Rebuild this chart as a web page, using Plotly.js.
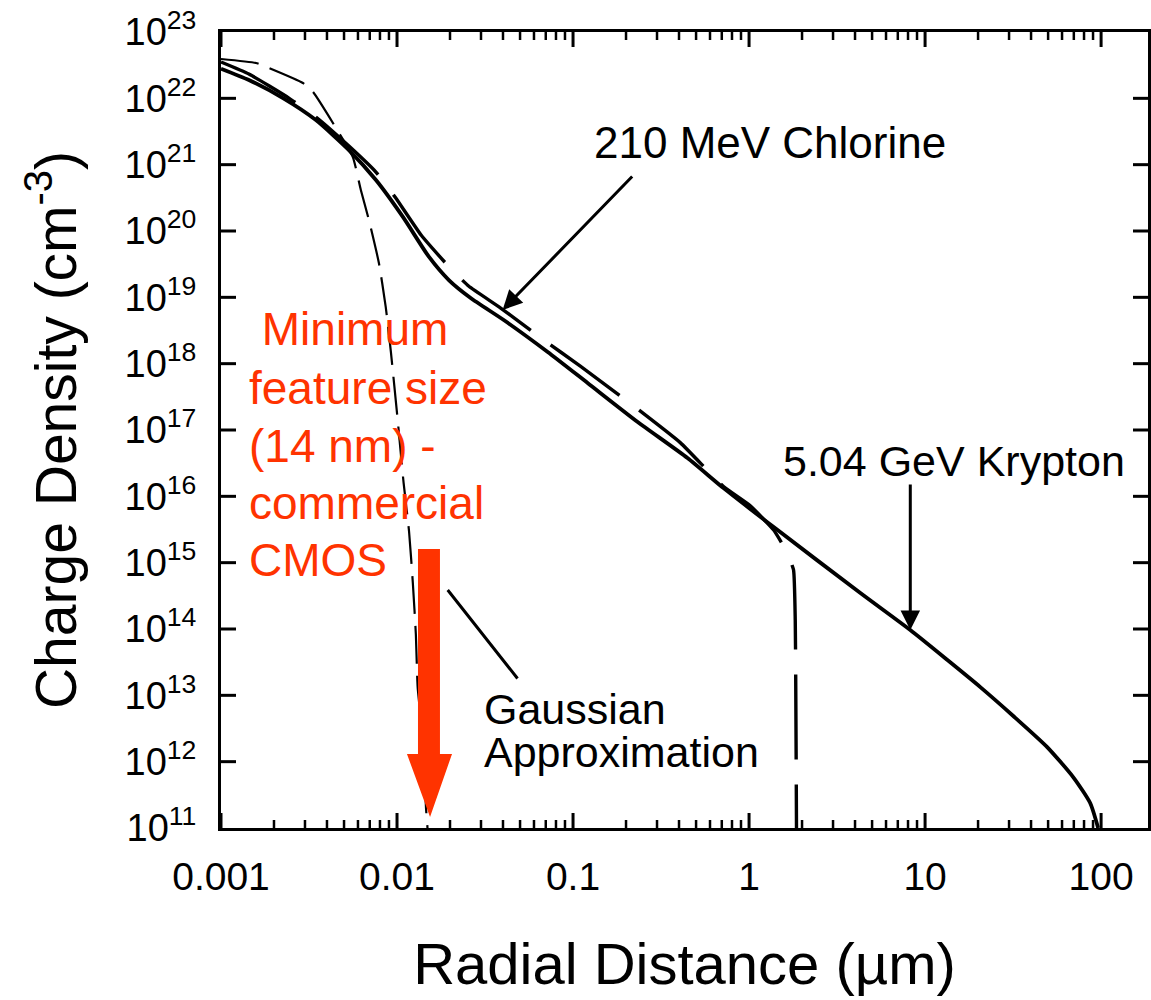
<!DOCTYPE html>
<html>
<head>
<meta charset="utf-8">
<script src="https://cdn.plot.ly/plotly-3.0.1.min.js"></script>
<style>html,body{margin:0;padding:0;background:#fff;}#chart{width:1151px;height:1000px;}</style>
</head>
<body>
<div id="chart"></div>
<script>
// Radial distance (µm) and charge density (cm^-3)
const kryptonX = [0.001, 0.00144, 0.00225, 0.00346, 0.00533, 0.00759, 0.0108, 0.0152, 0.0197, 0.0262, 0.0404, 0.0718, 0.121, 0.233, 0.447, 0.716, 1.38, 4.29, 8.24, 13.4, 20.6, 31.7, 49.4, 69.4, 86.7, 96.2];
const kryptonY = [2.8e22, 1.89e22, 1.01e22, 4.71e21, 1.66e21, 5.87e20, 1.63e20, 4.06e19, 1.82e19, 9.77e18, 4.55e18, 1.50e18, 5.11e17, 1.32e17, 3.78e16, 1.33e16, 3.44e15, 3.48e14, 9.64e13, 3.40e13, 1.33e13, 4.88e12, 1.66e12, 5.86e11, 2.38e11, 1.0e11];

const chlorineX = [0.001, 0.00144, 0.00243, 0.00346, 0.00533, 0.00759, 0.00984, 0.0137, 0.0197, 0.0255, 0.0388, 0.0655, 0.110, 0.221, 0.408, 0.716, 1.02, 1.38, 1.65, 1.79, 1.83, 1.86];
const chlorineY = [3.53e22, 2.33e22, 1.01e22, 5.23e21, 1.91e21, 7.74e20, 3.14e20, 8.7e19, 2.9e19, 1.48e19, 6.9e18, 2.45e18, 9.2e17, 2.3e17, 6.4e16, 1.4e16, 7.14e15, 3.10e15, 1.40e15, 7.74e14, 1.36e14, 1.0e11];

const gaussX = [0.001, 0.00158, 0.00187, 0.00292, 0.00333, 0.00450, 0.00561, 0.00623, 0.00692, 0.00789, 0.00863, 0.00923, 0.0101, 0.0109, 0.0117, 0.0123, 0.0128, 0.0131, 0.0140, 0.0146, 0.0149];
const gaussY = [3.92e22, 3.41e22, 2.87e22, 1.70e22, 1.25e22, 3.57e21, 1.30e21, 4.15e20, 1.47e20, 3.29e19, 7.14e18, 1.50e18, 1.37e17, 1.59e16, 3.00e15, 4.93e14, 8.11e13, 1.33e13, 2.27e12, 2.07e11, 1.0e11];

const xTickVals = [0.001, 0.01, 0.1, 1, 10, 100];
const xTickText = ['0.001', '0.01', '0.1', '1', '10', '100'];
const yExponents = [11, 12, 13, 14, 15, 16, 17, 18, 19, 20, 21, 22, 23];

const FONT = 'Liberation Sans, Arial, Helvetica, sans-serif';
const RED = '#ff3300';
const X_RANGE = [-3, 2.2665];
const Y_RANGE = [11, 23];

const yTickVals = yExponents.map(e => Math.pow(10, e));
const yTickText = yExponents.map(e => '10<sup>' + e + '</sup>');
const xMinor = [];
for (let d = -3; d <= 2; d++) for (let k = 2; k <= 9; k++) {
  const v = k * Math.pow(10, d);
  if (Math.log10(v) < X_RANGE[1]) xMinor.push(v);
}

const traces = [
  {x: kryptonX, y: kryptonY, type: 'scatter', mode: 'lines', name: '5.04 GeV Krypton',
   line: {color: '#000', width: 3.8, shape: 'spline', smoothing: 0.6}},
  {x: chlorineX, y: chlorineY, type: 'scatter', mode: 'lines', name: '210 MeV Chlorine',
   line: {color: '#000', width: 3.4, dash: '85px,25px', shape: 'spline', smoothing: 0.4}},
  {x: gaussX, y: gaussY, type: 'scatter', mode: 'lines', name: 'Gaussian Approximation',
   line: {color: '#000', width: 2.2, dash: '38px,12px', shape: 'spline', smoothing: 0.5}}
];

function txt(text, x, y, color, size, anchor) {
  return {text: text, xref: 'paper', yref: 'paper', x: x, y: y, xanchor: anchor || 'left', yanchor: 'middle',
          showarrow: false, font: {family: FONT, size: size, color: color}};
}

const annotations = [
  txt('210 MeV Chlorine', 0.4005, 0.8606, '#000', 44),
  txt('5.04 GeV Krypton', 0.6041, 0.4610, '#000', 43),
  txt('Gaussian', 0.2816, 0.1495, '#000', 43),
  txt('Approximation', 0.2816, 0.0955, '#000', 43),
  txt(' Minimum', 0.0280, 0.6269, RED, 46),
  txt('feature size', 0.0280, 0.5528, RED, 46),
  txt('(14 nm) -', 0.0280, 0.4799, RED, 46),
  txt('commercial', 0.0280, 0.4083, RED, 46),
  txt('CMOS', 0.0280, 0.3367, RED, 46),
  // arrows (tip in log axis units, tail offset in px)
  {text: '', xref: 'x', yref: 'y', x: -1.400, y: 18.809, ax: 131, ay: -135, showarrow: true,
   arrowhead: 2, arrowsize: 1.3, arrowwidth: 3, arrowcolor: '#000'},
  {text: '', xref: 'x', yref: 'y', x: 0.916, y: 13.984, ax: 0, ay: -147, showarrow: true,
   arrowhead: 2, arrowsize: 1.3, arrowwidth: 3, arrowcolor: '#000'},
  {text: '', xref: 'x', yref: 'y', x: -1.712, y: 14.588, ax: 71, ay: 90, showarrow: true,
   arrowhead: 0, arrowwidth: 3, arrowcolor: '#000'}
];

// frame tick marks (inside, on all four sides), placed along the axis ranges
const PLOT_W = 1151 - 221 - 3, PLOT_H = 1000 - 32 - 172;
const xFrac = v => (Math.log10(v) - X_RANGE[0]) / (X_RANGE[1] - X_RANGE[0]);
const yFrac = v => (Math.log10(v) - Y_RANGE[0]) / (Y_RANGE[1] - Y_RANGE[0]);
function xTick(v, len, w) {
  const f = xFrac(v), L = len / PLOT_H;
  return [
    {type: 'line', xref: 'paper', yref: 'paper', x0: f, x1: f, y0: 0, y1: L, line: {color: '#000', width: w}, layer: 'above'},
    {type: 'line', xref: 'paper', yref: 'paper', x0: f, x1: f, y0: 1, y1: 1 - L, line: {color: '#000', width: w}, layer: 'above'}
  ];
}
function yTick(v, len, w) {
  const f = yFrac(v), L = len / PLOT_W;
  return [
    {type: 'line', xref: 'paper', yref: 'paper', y0: f, y1: f, x0: 0, x1: L, line: {color: '#000', width: w}, layer: 'above'},
    {type: 'line', xref: 'paper', yref: 'paper', y0: f, y1: f, x0: 1, x1: 1 - L, line: {color: '#000', width: w}, layer: 'above'}
  ];
}

const shapes = [
  {type: 'path', xref: 'paper', yref: 'paper', fillcolor: RED, line: {width: 0},
   path: 'M 0.2125,0.3505 L 0.2362,0.3505 L 0.2362,0.0930 L 0.2492,0.0930 L 0.2255,0.0138 L 0.2006,0.0930 L 0.2125,0.0930 Z'}
];
xTickVals.forEach(v => shapes.push(...xTick(v, 15, 3)));
xMinor.forEach(v => shapes.push(...xTick(v, 8, 2.5)));
yTickVals.slice(1, -1).forEach(v => shapes.push(...yTick(v, 15, 3)));

const layout = {
  width: 1151, height: 1000,
  margin: {l: 221, r: 3, t: 32, b: 172},
  paper_bgcolor: '#fff', plot_bgcolor: '#fff',
  showlegend: false,
  font: {family: FONT, color: '#000'},
  xaxis: {
    type: 'log', range: X_RANGE, autorange: false,
    showgrid: false, zeroline: false,
    showline: true, linecolor: '#000', linewidth: 3, mirror: true,
    ticks: '',
    tickmode: 'array', tickvals: xTickVals, ticktext: xTickText,
    tickfont: {family: FONT, size: 39, color: '#000'}, ticklabelstandoff: 12,
    title: {text: 'Radial Distance (µm)', font: {family: FONT, size: 58, color: '#000'}, standoff: 47}
  },
  yaxis: {
    type: 'log', range: Y_RANGE, autorange: false,
    showgrid: false, zeroline: false,
    showline: true, linecolor: '#000', linewidth: 3, mirror: true,
    ticks: '',
    tickmode: 'array', tickvals: yTickVals, ticktext: yTickText,
    tickfont: {family: FONT, size: 38, color: '#000'}, ticklabelstandoff: 14,
    title: {text: 'Charge Density (cm<sup>-3</sup>)', font: {family: FONT, size: 57, color: '#000'}, standoff: 30}
  },
  annotations: annotations,
  shapes: shapes
};

Plotly.newPlot('chart', traces, layout, {displayModeBar: false, staticPlot: true});
</script>
</body>
</html>
